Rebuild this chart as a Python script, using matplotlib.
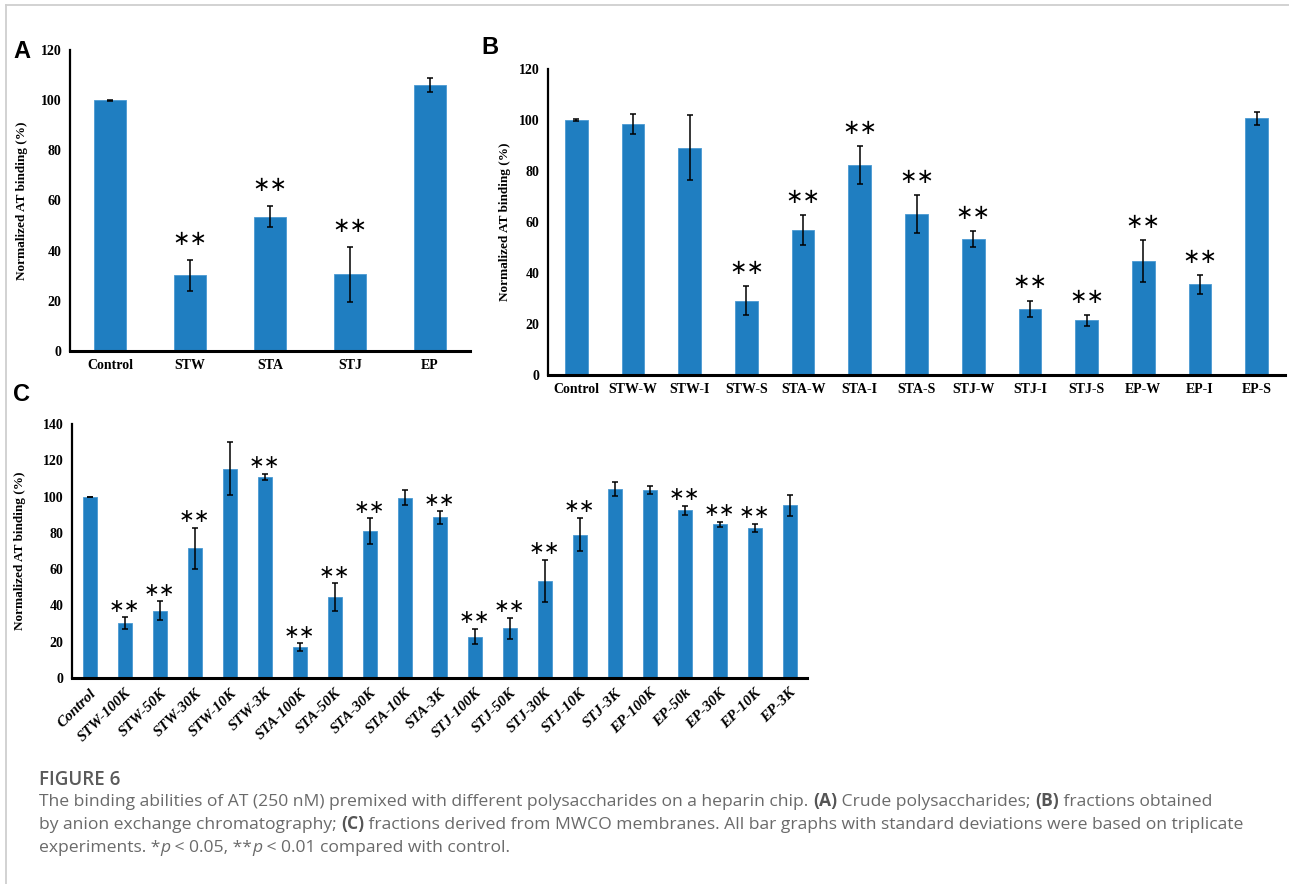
import numpy as np
import matplotlib
matplotlib.use('Agg')
import matplotlib.pyplot as plt
from matplotlib.lines import Line2D

# panel A: crude polysaccharides
a_labels = ['Control', 'STW', 'STA', 'STJ', 'EP']
a_values = [100, 30.1, 53.5, 30.5, 105.9]
a_errors = [0.2, 6.1, 4.2, 11.1, 2.8]
a_stars = ['', '**', '**', '**', '']

# panel B: anion exchange fractions
b_labels = ['Control', 'STW-W', 'STW-I', 'STW-S', 'STA-W', 'STA-I', 'STA-S',
            'STJ-W', 'STJ-I', 'STJ-S', 'EP-W', 'EP-I', 'EP-S']
b_values = [100, 98.6, 89.2, 29.2, 56.8, 82.3, 63.2, 53.3, 25.9, 21.5, 44.7, 35.6, 100.6]
b_errors = [0.2, 3.9, 12.9, 5.7, 6.0, 7.5, 7.4, 3.1, 3.3, 2.1, 8.4, 3.7, 2.4]
b_stars = ['', '', '', '**', '**', '**', '**', '**', '**', '**', '**', '**', '']

# panel C: MWCO fractions
c_labels = ['Control', 'STW-100K', 'STW-50K', 'STW-30K', 'STW-10K', 'STW-3K',
            'STA-100K', 'STA-50K', 'STA-30K', 'STA-10K', 'STA-3K',
            'STJ-100K', 'STJ-50K', 'STJ-30K', 'STJ-10K', 'STJ-3K',
            'EP-100K', 'EP-50k', 'EP-30K', 'EP-10K', 'EP-3K']
c_values = [99.8, 30.2, 37.2, 71.4, 115.4, 110.8, 17.1, 44.5, 81.1, 99.4, 88.5,
            22.8, 27.3, 53.5, 79.0, 104.1, 103.6, 92.4, 84.7, 82.9, 95.1]
c_errors = [0.2, 3.2, 5.0, 11.5, 14.7, 1.8, 2.0, 7.8, 7.0, 4.3, 3.4,
            4.2, 6.0, 11.5, 9.2, 4.0, 2.4, 2.6, 1.5, 2.2, 5.6]
c_stars = ['', '**', '**', '**', '', '**', '**', '**', '**', '', '**',
           '**', '**', '**', '**', '', '', '**', '**', '**', '']

BLUE = '#1f7ec1'
W, H = 1289, 884
serif = 'Liberation Serif'

fig = plt.figure(figsize=(W / 100, H / 100), dpi=100)


def px_axes(left, right, top, bottom):
    return fig.add_axes([left / W, 1 - bottom / H, (right - left) / W, (bottom - top) / H])


def bar_panel(ax, labels, values, errors, stars, ymax, star_off, star_size, rot=False):
    x = np.arange(len(labels))
    ax.bar(x, values, width=0.4, color=BLUE, edgecolor='#4a9ad3', linewidth=0.6, zorder=2)
    ax.errorbar(x, values, yerr=errors, fmt='none', ecolor='black',
                elinewidth=1.1, capsize=2.5, capthick=1.1, zorder=3)
    for xi, v, e, s in zip(x, values, errors, stars):
        if s:
            ax.annotate('\u2217\u2217', (xi, v + e), xytext=(0, star_off),
                        textcoords='offset points', ha='center', va='center',
                        fontsize=star_size, family='DejaVu Sans')
    ax.set_xlim(-0.5, len(labels) - 0.5)
    ax.set_ylim(0, ymax)
    ax.set_yticks(np.arange(0, ymax + 1, 20))
    for side in ['top', 'right']:
        ax.spines[side].set_visible(False)
    ax.spines['left'].set_linewidth(1.6)
    ax.spines['bottom'].set_linewidth(2.2)
    ax.tick_params(axis='both', length=0, pad=6)
    ax.set_xticks(x)
    if rot:
        ax.set_xticklabels(labels, rotation=45, ha='right', rotation_mode='anchor',
                           fontsize=11, fontweight='bold', family=serif, style='italic')
    else:
        ax.set_xticklabels(labels, fontsize=10, fontweight='bold', family=serif)
    for t in ax.get_yticklabels():
        t.set_fontweight('bold')
        t.set_family(serif)
        t.set_fontsize(10)
    ax.set_ylabel('Normalized AT binding (%)', fontsize=9.5, fontweight='bold', family=serif)


axA = px_axes(70, 470, 50, 351)
bar_panel(axA, a_labels, a_values, a_errors, a_stars, 120, 15, 15)
axA.yaxis.set_label_coords(-0.105, 0.5)

axB = px_axes(548, 1285, 69, 375)
bar_panel(axB, b_labels, b_values, b_errors, b_stars, 120, 13, 15)
axB.yaxis.set_label_coords(-0.05, 0.5)

axC = px_axes(72, 807, 424, 678)
bar_panel(axC, c_labels, c_values, c_errors, c_stars, 140, 8, 13.5, rot=True)
axC.yaxis.set_label_coords(-0.063, 0.5)

# panel letters
for lbl, (px, py) in zip(['A', 'B', 'C'], [(22, 52), (490, 47), (21, 395)]):
    fig.text(px / W, 1 - py / H, lbl, fontsize=17, fontweight='bold',
             family='Liberation Sans', ha='center', va='center')

# light frame
fig.add_artist(Line2D([6 / W, 1], [1 - 5 / H, 1 - 5 / H], transform=fig.transFigure,
                      color='#cfcfcf', lw=1.3))
fig.add_artist(Line2D([6 / W, 6 / W], [0, 1 - 5 / H], transform=fig.transFigure,
                      color='#cfcfcf', lw=1.3))

# caption
renderer = fig.canvas.get_renderer()
cap = '#6a6a6a'


def runs(x, y, parts, size=12.6):
    for txt, kw in parts:
        t = fig.text(x / W, 1 - y / H, txt, fontsize=size, family='Open Sans',
                     color=kw.get('color', cap), fontweight=kw.get('weight', 'normal'),
                     style=kw.get('style', 'normal'), va='baseline', ha='left')
        x += t.get_window_extent(renderer).width


fig.text(39 / W, 1 - 785 / H, 'FIGURE 6', fontsize=13.5, family='Open Sans',
         fontweight='semibold', color='#5a5a5a', va='baseline')
B = {'weight': 'bold', 'color': '#555555'}
N = {}
I = {'style': 'italic'}
runs(39, 806, [('The binding abilities of AT (250 nM) premixed with different polysaccharides on a heparin chip. ', N),
               ('(A)', B), (' Crude polysaccharides; ', N), ('(B)', B), (' fractions obtained', N)])
runs(39, 829, [('by anion exchange chromatography; ', N), ('(C)', B),
               (' fractions derived from MWCO membranes. All bar graphs with standard deviations were based on triplicate', N)])
runs(39, 852, [('experiments. *', N), ('p', I), (' < 0.05, **', N), ('p', I), (' < 0.01 compared with control.', N)])

fig.savefig('out.png', dpi=100)
